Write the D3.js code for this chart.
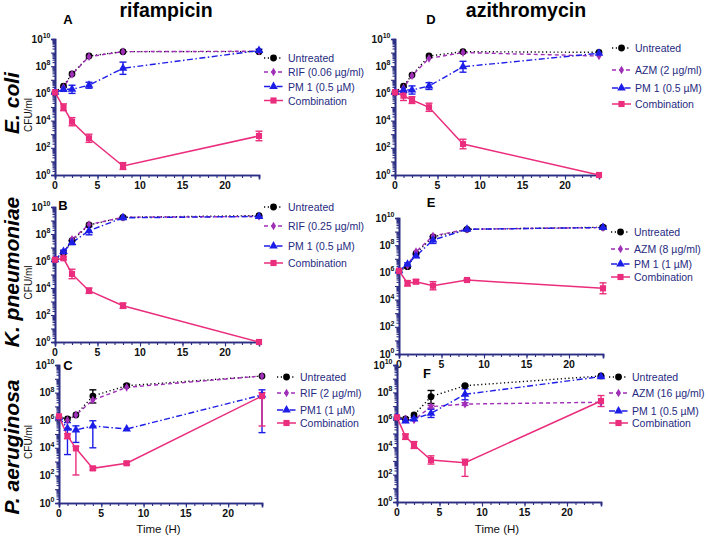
<!DOCTYPE html>
<html><head><meta charset="utf-8">
<script src="https://cdn.jsdelivr.net/npm/d3@7"></script>
<style>
body{margin:0;background:#fff;}
svg{display:block;font-family:"Liberation Sans",Arial,sans-serif;}
</style></head>
<body>
<svg id="c" width="708" height="538"></svg>
<script>
// ---------------- DATA (log10 CFU/ml) ----------------
const times = [0, 1, 2, 4, 8, 24];
const xTicks = [0, 5, 10, 15, 20];
const yLabelExps = [0, 2, 4, 6, 8, 10];
const seriesNames = ["Untreated", "Drug", "PM 1", "Combination"];

// Panel A - E. coli, rifampicin
const A_untreated = [6.08, 6.54, 7.43, 8.75, 9.07, 9.07];
const A_drug      = [6.08, 6.45, 7.40, 8.70, 9.07, 9.10];
const A_pm1       = [6.08, 6.30, 6.30, 6.60, 7.85, 9.15];
const A_combo     = [6.08, 4.98, 3.92, 2.70, 0.66, 2.87];
const A_pm1Err    = [0, 0.15, 0.30, 0.22, 0.45, 0.10];
const A_comboErr  = [0, 0.25, 0.30, 0.30, 0.25, 0.35];
const A_legend = ["Untreated", "RIF (0.06 \u00b5g/ml)", "PM 1 (0.5 \u00b5M)", "Combination"];

// Panel B - K. pneumoniae, rifampicin
const B_untreated = [6.10, 6.60, 7.50, 8.67, 9.24, 9.36];
const B_drug      = [6.10, 6.60, 7.60, 8.70, 9.24, 9.30];
const B_pm1       = [6.10, 6.70, 7.36, 8.24, 9.20, 9.30];
const B_combo     = [6.10, 6.20, 5.04, 3.80, 2.69, 0.00];
const B_pm1Err    = [0, 0.10, 0.15, 0.30, 0.10, 0.05];
const B_comboErr  = [0, 0.10, 0.35, 0.20, 0.20, 0];
const B_legend = ["Untreated", "RIF (0.25 \u00b5g/ml)", "PM 1 (0.5 \u00b5M)", "Combination"];

// Panel C - P. aeruginosa, rifampicin
const C_untreated = [6.21, 6.09, 6.38, 7.75, 8.50, 9.20];
const C_drug      = [6.21, 6.00, 6.38, 7.46, 8.38, 9.20];
const C_pm1       = [6.21, 5.41, 5.29, 5.58, 5.36, 7.83];
const C_combo     = [6.28, 4.86, 3.96, 2.51, 2.88, 7.75];
const C_untrErrUp = [0, 0, 0, 0.45, 0.10, 0];
const C_untrErrDn = [0, 0, 0, 0.50, 0.10, 0];
const C_pm1ErrUp  = [0, 0.42, 0.30, 0.38, 0, 0.37];
const C_pm1ErrDn  = [0, 1.90, 0.90, 1.58, 0, 2.73];
const C_comboErrUp= [0, 0.15, 0.15, 0.12, 0.10, 0.25];
const C_comboErrDn= [0, 0.20, 1.93, 0.12, 0.10, 2.17];
const C_legend = ["Untreated", "RIF (2 \u00b5g/ml)", "PM1 (1 \u00b5M)", "Combination"];

// Panel D - E. coli, azithromycin
const D_untreated = [6.08, 6.54, 7.35, 8.75, 9.07, 9.02];
const D_drug      = [6.08, 6.40, 7.30, 8.58, 9.00, 8.75];
const D_pm1       = [6.08, 6.25, 6.25, 6.54, 7.96, 8.95];
const D_combo     = [6.08, 5.83, 5.51, 4.98, 2.28, 0.00];
const D_pm1Err    = [0, 0.20, 0.30, 0.25, 0.40, 0];
const D_comboErr  = [0, 0.35, 0.25, 0.30, 0.35, 0];
const D_legend = ["Untreated", "AZM (2 \u00b5g/ml)", "PM 1 (0.5 \u00b5M)", "Combination"];

// Panel E - K. pneumoniae, azithromycin
const E_untreated = [6.12, 6.42, 7.40, 8.62, 9.17, 9.32];
const E_drug      = [6.12, 6.50, 7.52, 8.68, 9.17, 9.30];
const E_pm1       = [6.12, 6.60, 7.20, 8.38, 9.17, 9.30];
const E_combo     = [6.12, 5.20, 5.32, 5.02, 5.44, 4.83];
const E_untrErr   = [0, 0.10, 0, 0, 0.05, 0.10];
const E_pm1Err    = [0, 0.10, 0.10, 0.25, 0.05, 0.05];
const E_comboErr  = [0, 0.20, 0.15, 0.30, 0.05, 0.40];
const E_legend = ["Untreated", "AZM (8 \u00b5g/ml)", "PM 1 (1 \u00b5M)", "Combination"];

// Panel F - P. aeruginosa, azithromycin
const F_untreated = [6.18, 6.06, 6.35, 7.69, 8.49, 9.20];
const F_drug      = [6.18, 6.06, 5.99, 6.96, 7.15, 7.28];
const F_pm1       = [6.18, 5.91, 6.06, 6.47, 7.86, 9.15];
const F_combo     = [6.18, 4.77, 4.16, 3.07, 2.87, 7.37];
const F_untrErrUp = [0, 0, 0, 0.45, 0.05, 0];
const F_untrErrDn = [0, 0, 0, 0.50, 0.05, 0];
const F_drugErr   = [0, 0, 0, 0.10, 0.10, 0];
const F_pm1Err    = [0, 0.10, 0.10, 0.30, 0.40, 0.05];
const F_comboErrUp= [0, 0.20, 0.25, 0.30, 0.25, 0.40];
const F_comboErrDn= [0, 0.20, 0.25, 0.30, 1.00, 0.40];
const F_legend = ["Untreated", "AZM (16 \u00b5g/ml)", "PM 1 (0.5 \u00b5M)", "Combination"];

const zeros = times.map(() => 0);

// ---------------- STYLE / LAYOUT ----------------
const AXIS = "#2b2e83";
const LEGTXT = "#1f2a80";
const styles = [
  {color:"#000000", dash:"1.2,2.6", width:1.4, sym:d3.symbolCircle, size:36},
  {color:"#a02fb8", dash:"4,3", width:1.4, sym:d3.symbolDiamond, size:22},
  {color:"#1d1de8", dash:"6,2.5,1.5,2.5", width:1.4, sym:d3.symbolTriangle, size:32},
  {color:"#ea2d7c", dash:null, width:1.5, sym:d3.symbolSquare, size:38}
];

const panels = [
  {letter:"A", lx:68, ly:24, x0:55, x1:259, yTop:39, yBot:175, timeLabel:false,
   legX:264, legTx:288, legY:[58,72,86.5,100.5], legend:A_legend,
   series:[[A_untreated,zeros,zeros],[A_drug,zeros,zeros],[A_pm1,A_pm1Err,A_pm1Err],[A_combo,A_comboErr,A_comboErr]]},
  {letter:"B", lx:63, ly:210, x0:55, x1:259, yTop:207, yBot:342, timeLabel:false,
   legX:264, legTx:288, legY:[207,226,246,263], legend:B_legend,
   series:[[B_untreated,zeros,zeros],[B_drug,zeros,zeros],[B_pm1,B_pm1Err,B_pm1Err],[B_combo,B_comboErr,B_comboErr]]},
  {letter:"C", lx:68, ly:370, x0:59, x1:262, yTop:365, yBot:503, timeLabel:true,
   legX:277, legTx:300, legY:[377,393,410,423], legend:C_legend,
   series:[[C_untreated,C_untrErrUp,C_untrErrDn],[C_drug,zeros,zeros],[C_pm1,C_pm1ErrUp,C_pm1ErrDn],[C_combo,C_comboErrUp,C_comboErrDn]]},
  {letter:"D", lx:431, ly:24, x0:395, x1:599, yTop:39, yBot:175, timeLabel:false,
   legX:612, legTx:635, legY:[48,70,88,104], legend:D_legend,
   series:[[D_untreated,zeros,zeros],[D_drug,zeros,zeros],[D_pm1,D_pm1Err,D_pm1Err],[D_combo,D_comboErr,D_comboErr]]},
  {letter:"E", lx:431, ly:207, x0:399, x1:603, yTop:218, yBot:354, timeLabel:false,
   legX:611, legTx:634, legY:[232,249,264,277], legend:E_legend,
   series:[[E_untreated,E_untrErr,E_untrErr],[E_drug,zeros,zeros],[E_pm1,E_pm1Err,E_pm1Err],[E_combo,E_comboErr,E_comboErr]]},
  {letter:"F", lx:427, ly:378, x0:397, x1:601, yTop:365, yBot:502, timeLabel:true,
   legX:609, legTx:632, legY:[377,393,411,423], legend:F_legend,
   series:[[F_untreated,F_untrErrUp,F_untrErrDn],[F_drug,F_drugErr,F_drugErr],[F_pm1,F_pm1Err,F_pm1Err],[F_combo,F_comboErrUp,F_comboErrDn]]}
];

const svg = d3.select("#c");

svg.append("text").attr("x",166).attr("y",17).attr("text-anchor","middle")
  .attr("font-size",19.5).attr("font-weight","bold").text("rifampicin");
svg.append("text").attr("x",526).attr("y",17).attr("text-anchor","middle")
  .attr("font-size",19.5).attr("font-weight","bold").text("azithromycin");

[["E. coli",103],["K. pneumoniae",272],["P. aeruginosa",447]].forEach(([t,cy])=>{
  svg.append("text").attr("transform",`translate(19,${cy}) rotate(-90)`)
    .attr("text-anchor","middle").attr("font-size",21).attr("font-weight","bold")
    .attr("font-style","italic").text(t);
});

panels.forEach(p => {
  const g = svg.append("g");
  const x = d3.scaleLinear().domain([0,24]).range([p.x0,p.x1]);
  const y = d3.scaleLog().domain([1,1e10]).range([p.yBot,p.yTop]);

  const minor = [];
  for (let k=0;k<10;k++) for (let m=2;m<=9;m++) minor.push(m*Math.pow(10,k));
  const yMin = g.append("g").attr("transform",`translate(${p.x0},0)`)
    .call(d3.axisLeft(y).tickValues(minor).tickSize(2.5).tickFormat(""));
  const yMaj = g.append("g").attr("transform",`translate(${p.x0},0)`)
    .call(d3.axisLeft(y).tickValues(d3.range(0,11).map(k=>Math.pow(10,k))).tickSize(4).tickFormat(""));
  const xMin = g.append("g").attr("transform",`translate(0,${p.yBot})`)
    .call(d3.axisBottom(x).tickValues(d3.range(0,25)).tickSize(3).tickFormat(""));
  const xMaj = g.append("g").attr("transform",`translate(0,${p.yBot})`)
    .call(d3.axisBottom(x).tickValues(xTicks).tickSize(4.5).tickFormat(""));
  [yMin,yMaj,xMin,xMaj].forEach(a=>{
    a.selectAll("path").attr("stroke",AXIS).attr("stroke-width",1.6);
    a.selectAll("line").attr("stroke",AXIS).attr("stroke-width",1.1);
  });

  yLabelExps.forEach(k=>{
    const t = g.append("text").attr("x",p.x0-4.5).attr("y",y(Math.pow(10,k))+3.5)
      .attr("text-anchor","end").attr("font-size",10).attr("font-weight","bold").attr("fill","#111");
    t.append("tspan").text("10");
    t.append("tspan").attr("dy",-4.5).attr("font-size",7).text(k);
  });
  xTicks.forEach(v=>{
    g.append("text").attr("x",x(v)).attr("y",p.yBot+14).attr("text-anchor","middle")
      .attr("font-size",10.5).attr("font-weight","bold").attr("fill","#111").text(v);
  });
  if (p.timeLabel) {
    g.append("text").attr("x",(p.x0+p.x1)/2 - 2).attr("y",533).attr("text-anchor","middle")
      .attr("font-size",11.5).attr("fill","#111").text("Time (H)");
  }
  if (p.x0 < 100) {
    g.append("text").attr("transform",`translate(32,${(p.yTop+p.yBot)/2+8}) rotate(-90)`)
      .attr("text-anchor","middle").attr("font-size",10).attr("fill","#111").text("CFU/ml");
  }
  g.append("text").attr("x",p.lx).attr("y",p.ly).attr("text-anchor","middle")
    .attr("font-size",13).attr("font-weight","bold").text(p.letter);

  const line = d3.line().x(d=>x(d.t)).y(d=>y(Math.pow(10,d.v)));

  p.series.forEach((s,i)=>{
    const st = styles[i];
    const pts = times.map((t,j)=>({t, v:s[0][j], up:s[1][j], dn:s[2][j]}));
    g.append("path").datum(pts).attr("d",line).attr("fill","none")
      .attr("stroke",st.color).attr("stroke-width",st.width)
      .attr("stroke-dasharray",st.dash);
    pts.filter(d=>d.up>0||d.dn>0).forEach(d=>{
      const cx = x(d.t);
      const yu = y(Math.pow(10,d.v+d.up)), yd = y(Math.pow(10,d.v-d.dn));
      const eg = g.append("g").attr("stroke",st.color).attr("stroke-width",1.4);
      eg.append("line").attr("x1",cx).attr("x2",cx).attr("y1",yu).attr("y2",yd);
      if (d.up>0) eg.append("line").attr("x1",cx-3.5).attr("x2",cx+3.5).attr("y1",yu).attr("y2",yu);
      if (d.dn>0) eg.append("line").attr("x1",cx-3.5).attr("x2",cx+3.5).attr("y1",yd).attr("y2",yd);
    });
  });
  p.series.forEach((s,i)=>{
    const st = styles[i];
    const sym = d3.symbol().type(st.sym).size(st.size);
    times.forEach((t,j)=>{
      g.append("path").attr("d",sym())
        .attr("transform",`translate(${x(t)},${y(Math.pow(10,s[0][j]))})`)
        .attr("fill",st.color);
    });
  });

  p.legend.forEach((lab,i)=>{
    const st = styles[i];
    const ly = p.legY[i];
    g.append("line").attr("x1",p.legX).attr("x2",p.legX+19).attr("y1",ly).attr("y2",ly)
      .attr("stroke",st.color).attr("stroke-width",st.width).attr("stroke-dasharray",st.dash);
    g.append("path").attr("d",d3.symbol().type(st.sym).size(st.size)())
      .attr("transform",`translate(${p.legX+9.5},${ly})`).attr("fill",st.color);
    g.append("text").attr("x",p.legTx).attr("y",ly+4).attr("font-size",10.5)
      .attr("fill",LEGTXT).text(lab);
  });
});
</script>
</body></html>
